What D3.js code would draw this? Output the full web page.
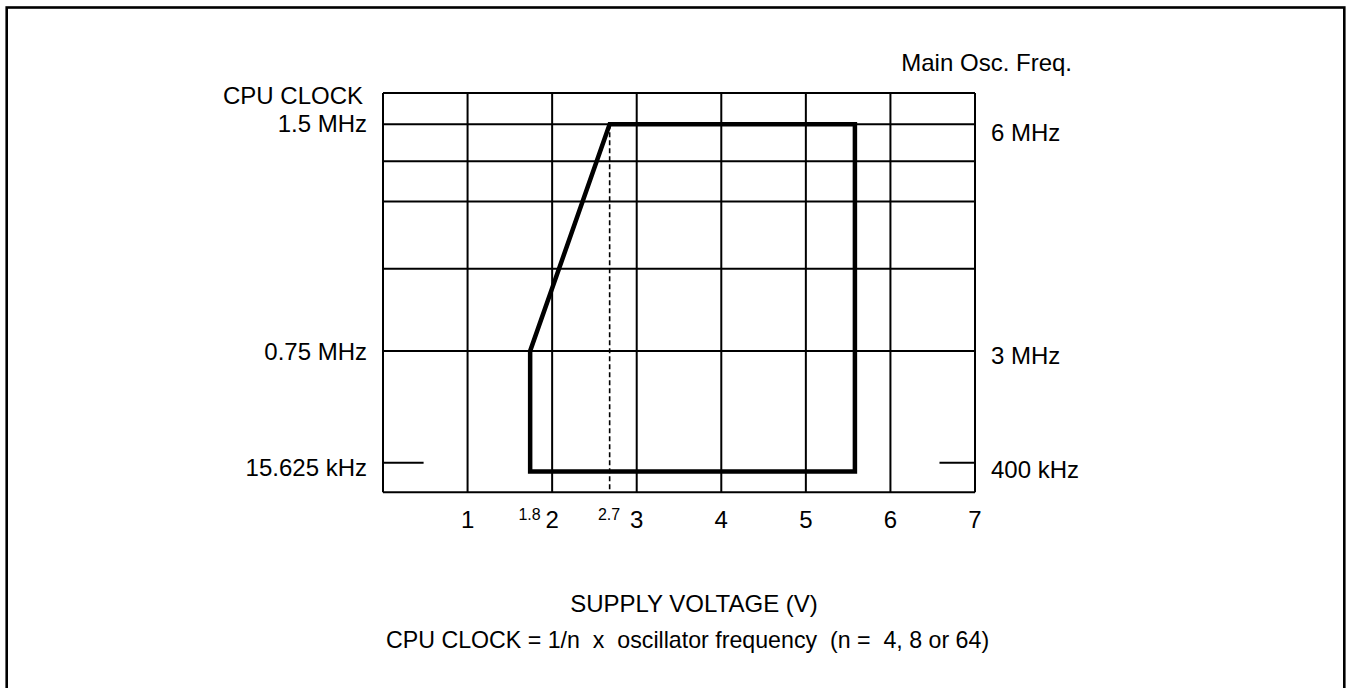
<!DOCTYPE html>
<html><head><meta charset="utf-8">
<script src="https://cdn.jsdelivr.net/npm/d3@7"></script>
<style>
html,body{margin:0;padding:0;background:#fff;}
svg text{font-family:"Liberation Sans",Arial,sans-serif;fill:#000;white-space:pre;}
</style></head>
<body><svg id="c" width="1346" height="688"></svg>
<script>
// ---- data ----
const voltTicks = [1, 2, 3, 4, 5, 6, 7];
const voltMarks = [{v: 1.74, label: "1.8"}, {v: 2.68, label: "2.7"}];
const freqGrid = [4.09, 4.98, 5.51];           // main osc. MHz (unlabelled grid lines)
const freqLabeled = [
  {f: 6, left: "1.5 MHz", right: "6 MHz"},
  {f: 3, left: "0.75 MHz", right: "3 MHz"},
  {f: 0.4, left: "15.625 kHz", right: "400 kHz"}
];
const lowTickSpan = [[0, 0.48], [6.58, 7]];
const areaVolt = [1.74, 1.74, 2.68, 5.58, 5.58];
const areaFreq = [0.28, 3, 6, 6, 0.28];
const dashedVolt = 2.68;

// ---- scales ----
const svg = d3.select("#c");
const x = d3.scaleLinear().domain([0, 7]).range([383, 975]);
// broken (piecewise) frequency axis
const y = d3.scaleLinear().domain([0, 0.4, 3, 6, 6.43]).range([492.3, 462.7, 351, 124.3, 93]);

// frame
svg.append("rect").attr("x", 6.7).attr("y", 7.5).attr("width", 1337.6).attr("height", 700)
  .attr("fill", "none").attr("stroke", "#000").attr("stroke-width", 2.6);

const g = svg.append("g");
// vertical grid
g.selectAll("line.v").data([0].concat(voltTicks)).join("line").attr("class", "v")
  .attr("x1", d => x(d)).attr("x2", d => x(d))
  .attr("y1", y(6.43)).attr("y2", y(0))
  .attr("stroke", "#000").attr("stroke-width", 2);
// horizontal grid
g.selectAll("line.h").data([6.43, 6, ...freqGrid, 3, 0]).join("line").attr("class", "h")
  .attr("x1", x(0)).attr("x2", x(7))
  .attr("y1", d => y(d)).attr("y2", d => y(d))
  .attr("stroke", "#000").attr("stroke-width", 2);
// 400 kHz short ticks
g.selectAll("line.lt").data(lowTickSpan).join("line").attr("class", "lt")
  .attr("x1", d => x(d[0])).attr("x2", d => x(d[1]))
  .attr("y1", y(0.4)).attr("y2", y(0.4))
  .attr("stroke", "#000").attr("stroke-width", 2);

// dashed line at 2.7 V
g.append("line").attr("x1", x(dashedVolt)).attr("x2", x(dashedVolt))
  .attr("y1", y(6)).attr("y2", y(0))
  .attr("stroke", "#000").attr("stroke-width", 1.6).attr("stroke-dasharray", "5,3");

// operating area
const pts = areaVolt.map((v, i) => [x(v), y(areaFreq[i])]);
g.append("path").attr("d", d3.line()(pts) + "Z")
  .attr("fill", "none").attr("stroke", "#000").attr("stroke-width", 4.5).attr("stroke-linejoin", "miter");

// x tick labels
g.selectAll("text.xt").data(voltTicks).join("text").attr("class", "xt")
  .attr("x", d => x(d)).attr("y", 528).attr("text-anchor", "middle")
  .attr("font-size", 24).text(d => d);
g.selectAll("text.xm").data(voltMarks).join("text").attr("class", "xm")
  .attr("x", d => x(d.v) + 10.5).attr("y", 520).attr("text-anchor", "end")
  .attr("font-size", 16).text(d => d.label);

// y labels
g.selectAll("text.yl").data(freqLabeled).join("text").attr("class", "yl")
  .attr("x", 367).attr("y", (d, i) => y(d.f) + [8, 9, 13][i]).attr("text-anchor", "end")
  .attr("font-size", 24).text(d => d.left);
g.selectAll("text.yr").data(freqLabeled).join("text").attr("class", "yr")
  .attr("x", 991).attr("y", (d, i) => y(d.f) + [17, 13, 15][i]).attr("text-anchor", "start")
  .attr("font-size", 24).text(d => d.right);

// titles
svg.append("text").attr("x", 363).attr("y", 104).attr("text-anchor", "end").attr("font-size", 24).text("CPU CLOCK");
svg.append("text").attr("x", 1072).attr("y", 71).attr("text-anchor", "end").attr("font-size", 24).text("Main Osc. Freq.");
svg.append("text").attr("x", 694).attr("y", 612).attr("text-anchor", "middle").attr("font-size", 24).text("SUPPLY VOLTAGE (V)");
svg.append("text").attr("x", 386).attr("y", 648).attr("text-anchor", "start").attr("font-size", 23.2)
  .text("CPU CLOCK = 1/n  x  oscillator frequency  (n =  4, 8 or 64)");
</script></body></html>
